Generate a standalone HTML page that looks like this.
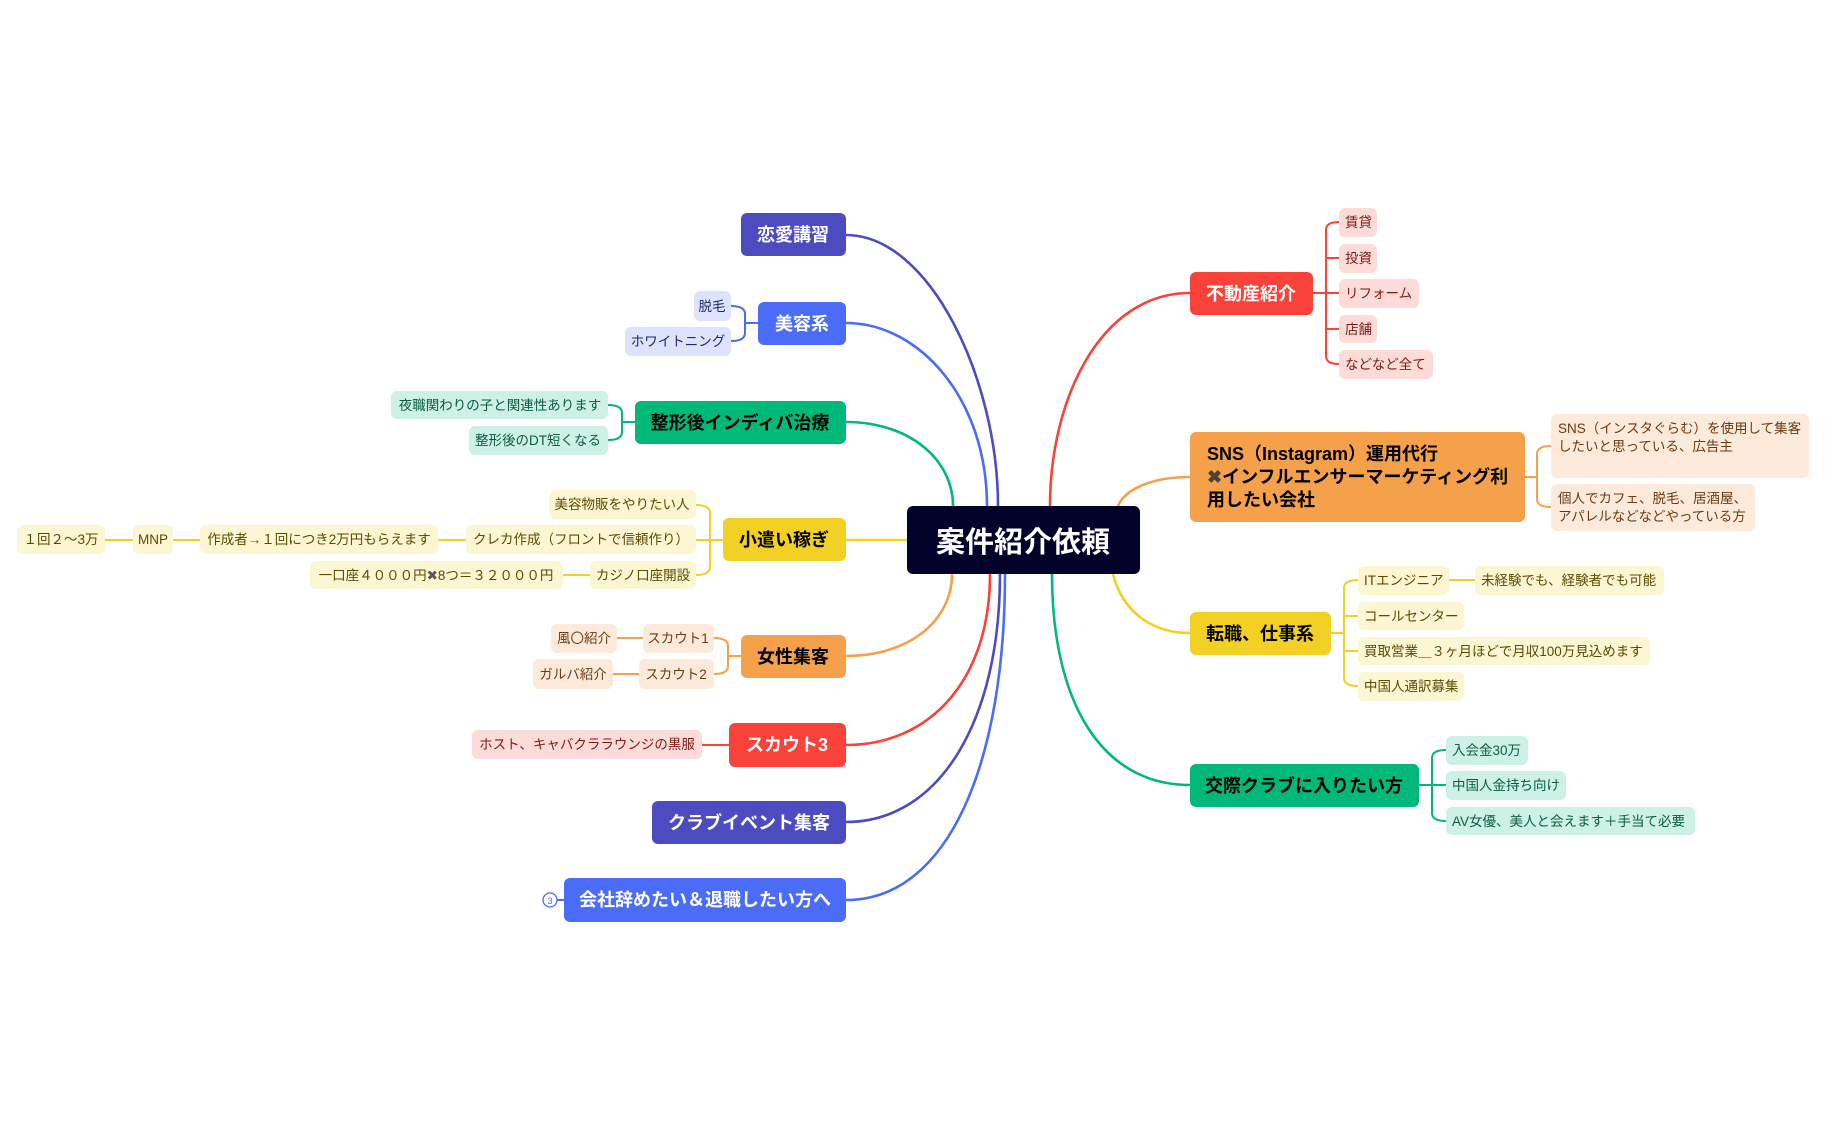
<!DOCTYPE html>
<html><head><meta charset="utf-8"><style>
html,body{margin:0;padding:0;background:#fff;}
svg text{font-family:"Liberation Sans","Noto Sans CJK JP",sans-serif;}
.n{font-size:18px;font-weight:bold;}
.l{font-size:13.5px;}
</style></head><body>
<svg width="1826" height="1130" viewBox="0 0 1826 1130" xmlns="http://www.w3.org/2000/svg">
<g fill="none" stroke-width="2.6" stroke-linecap="round">
<path d="M846 235 C930 235 998 380 998 506" stroke="#4c4bc0"/>
<path d="M846 323 C920 323 987 400 987 506" stroke="#4a6cf7"/>
<path d="M846 422 C910 422 953 460 953 506" stroke="#00b87a"/>
<path d="M846 540 L907 540" stroke="#f2d024"/>
<path d="M846 656 C910 656 952 620 952 574" stroke="#f5a04a"/>
<path d="M846 745 C930 745 990 680 990 574" stroke="#f9423a"/>
<path d="M846 822 C940 822 1000 720 1000 574" stroke="#4c4bc0"/>
<path d="M846 900 C950 900 1005 760 1005 574" stroke="#4a6cf7"/>
<path d="M1190 293 C1100 293 1050 400 1050 506" stroke="#f9423a"/>
<path d="M1190 477 C1150 477 1125 490 1118 506" stroke="#f5a04a"/>
<path d="M1190 633 C1150 633 1122 610 1113 574" stroke="#f2d024"/>
<path d="M1190 785 C1100 785 1052 700 1052 574" stroke="#00b87a"/>
</g>
<g fill="none" stroke-width="2" stroke-linejoin="round">
<g stroke="#4a6cf7"><path d="M758 323H745M731 306Q745 306 745 314V333Q745 341 731 341"/></g>
<g stroke="#00b87a"><path d="M635 422H622M608 405Q622 405 622 413V432Q622 440 608 440"/></g>
<g stroke="#f2d024"><path d="M723 540H696M696 505Q710 505 710 513V567Q710 575 696 575M466 540H438M200 540H173M133 540H105M590 575H563"/></g>
<g stroke="#f5a04a"><path d="M741 656H728M714 638Q728 638 728 646V666Q728 674 714 674M643 638H617M639 674H613"/></g>
<g stroke="#f9423a"><path d="M729 745H702"/></g>
<g stroke="#4a6cf7"><path d="M564 900H557"/><circle cx="550" cy="900" r="7" fill="#fff" stroke-width="1.3"/></g>
<g stroke="#f9423a"><path d="M1313 293H1339M1339 222Q1326 222 1326 230V356Q1326 364 1339 364M1326 258H1339M1326 329H1339"/></g>
<g stroke="#f5a04a"><path d="M1525 477H1537M1551 446Q1537 446 1537 454V499Q1537 507 1551 507"/></g>
<g stroke="#f2d024"><path d="M1331 633H1344M1358 580Q1344 580 1344 588V678Q1344 686 1358 686M1344 616H1358M1344 651H1358M1449 580H1475"/></g>
<g stroke="#00b87a"><path d="M1419 785H1446M1446 750Q1432 750 1432 758V813Q1432 821 1446 821"/></g>
</g>
<text x="550" y="904" font-size="9" fill="#4a6cf7" text-anchor="middle">3</text>

<!-- center -->
<rect x="907" y="506" width="233" height="68" rx="6" fill="#02022a"/>
<text x="1023" y="552" font-size="29" font-weight="bold" fill="#fff" text-anchor="middle">案件紹介依頼</text>

<!-- main nodes -->
<g class="n">
<rect x="741" y="213" width="105" height="43" rx="6" fill="#4c4bc0"/><text x="793" y="241" fill="#fff" text-anchor="middle" class="n">恋愛講習</text>
<rect x="758" y="302" width="88" height="43" rx="6" fill="#4a6cf7"/><text x="802" y="330" fill="#fff" text-anchor="middle" class="n">美容系</text>
<rect x="635" y="401" width="211" height="43" rx="6" fill="#00b87a"/><text x="740" y="429" fill="#000" text-anchor="middle" class="n">整形後インディバ治療</text>
<rect x="723" y="518" width="123" height="43" rx="6" fill="#f2d024"/><text x="784" y="546" fill="#000" text-anchor="middle" class="n">小遣い稼ぎ</text>
<rect x="741" y="635" width="105" height="43" rx="6" fill="#f5a04a"/><text x="793" y="663" fill="#000" text-anchor="middle" class="n">女性集客</text>
<rect x="729" y="723" width="117" height="44" rx="6" fill="#f9423a"/><text x="787" y="751" fill="#fff" text-anchor="middle" class="n">スカウト3</text>
<rect x="652" y="801" width="194" height="43" rx="6" fill="#4c4bc0"/><text x="749" y="829" fill="#fff" text-anchor="middle" class="n">クラブイベント集客</text>
<rect x="564" y="878" width="282" height="44" rx="6" fill="#4a6cf7"/><text x="705" y="906" fill="#fff" text-anchor="middle" class="n">会社辞めたい＆退職したい方へ</text>
<rect x="1190" y="272" width="123" height="43" rx="6" fill="#f9423a"/><text x="1251" y="300" fill="#fff" text-anchor="middle" class="n">不動産紹介</text>
<rect x="1190" y="432" width="335" height="90" rx="6" fill="#f5a04a"/>
<text x="1207" y="460" fill="#000" class="n">SNS（Instagram）運用代行</text>
<text x="1207" y="483" fill="#000" class="n"><tspan fill="#444">✖</tspan>インフルエンサーマーケティング利</text>
<text x="1207" y="506" fill="#000" class="n">用したい会社</text>
<rect x="1190" y="612" width="141" height="43" rx="6" fill="#f2d024"/><text x="1260" y="640" fill="#000" text-anchor="middle" class="n">転職、仕事系</text>
<rect x="1190" y="764" width="229" height="43" rx="6" fill="#00b87a"/><text x="1304" y="792" fill="#000" text-anchor="middle" class="n">交際クラブに入りたい方</text>
</g>

<!-- leaves -->
<g class="l">
<g fill="#dde3fd"><rect x="694" y="291" width="37" height="30" rx="6"/><rect x="625" y="327" width="106" height="29" rx="6"/></g>
<g fill="#1d2b6b" class="l"><text x="712" y="311" text-anchor="middle" class="l">脱毛</text><text x="678" y="346" text-anchor="middle" class="l">ホワイトニング</text></g>

<g fill="#cdf1e4"><rect x="391" y="391" width="217" height="28" rx="6"/><rect x="469" y="426" width="139" height="29" rx="6"/></g>
<g fill="#0a5d40" class="l"><text x="500" y="410" text-anchor="middle" class="l">夜職関わりの子と関連性あります</text><text x="538" y="445" text-anchor="middle" class="l">整形後のDT短くなる</text></g>

<g fill="#fdf6d3"><rect x="549" y="490" width="147" height="29" rx="6"/><rect x="466" y="525" width="230" height="29" rx="6"/><rect x="200" y="525" width="238" height="29" rx="6"/><rect x="133" y="525" width="40" height="29" rx="6"/><rect x="17" y="525" width="88" height="29" rx="6"/><rect x="590" y="561" width="106" height="28" rx="6"/><rect x="310" y="561" width="253" height="28" rx="6"/></g>
<g fill="#5a4a00" class="l">
<text x="622" y="509" text-anchor="middle" class="l">美容物販をやりたい人</text>
<text x="581" y="544" text-anchor="middle" class="l">クレカ作成（フロントで信頼作り）</text>
<text x="319" y="544" text-anchor="middle" class="l">作成者→１回につき2万円もらえます</text>
<text x="153" y="544" text-anchor="middle" class="l">MNP</text>
<text x="61" y="544" text-anchor="middle" class="l">１回２〜3万</text>
<text x="643" y="580" text-anchor="middle" class="l">カジノ口座開設</text>
<text x="436" y="580" text-anchor="middle" class="l">一口座４０００円<tspan fill="#555">✖</tspan>8つ＝３２０００円</text>
</g>

<g fill="#fdeadb"><rect x="551" y="624" width="66" height="29" rx="6"/><rect x="643" y="624" width="71" height="29" rx="6"/><rect x="533" y="659" width="80" height="30" rx="6"/><rect x="639" y="659" width="75" height="30" rx="6"/></g>
<g fill="#6b3a10" class="l"><text x="584" y="643" text-anchor="middle" class="l">風〇紹介</text><text x="678" y="643" text-anchor="middle" class="l">スカウト1</text><text x="573" y="679" text-anchor="middle" class="l">ガルバ紹介</text><text x="676" y="679" text-anchor="middle" class="l">スカウト2</text></g>

<rect x="472" y="730" width="230" height="29" rx="6" fill="#fddbd8"/>
<text x="587" y="749" text-anchor="middle" fill="#7a1a14" class="l">ホスト、キャバクララウンジの黒服</text>

<g fill="#fddbd8"><rect x="1339" y="208" width="38" height="29" rx="6"/><rect x="1339" y="244" width="38" height="29" rx="6"/><rect x="1339" y="279" width="80" height="29" rx="6"/><rect x="1339" y="315" width="38" height="28" rx="6"/><rect x="1339" y="350" width="94" height="29" rx="6"/></g>
<g fill="#7a1a14" class="l"><text x="1345" y="227" class="l">賃貸</text><text x="1345" y="263" class="l">投資</text><text x="1345" y="298" class="l">リフォーム</text><text x="1345" y="334" class="l">店舗</text><text x="1345" y="369" class="l">などなど全て</text></g>

<g fill="#fdeadb"><rect x="1551" y="414" width="258" height="64" rx="6"/><rect x="1551" y="484" width="204" height="47" rx="6"/></g>
<g fill="#6b3a10" class="l"><text x="1558" y="433" class="l">SNS（インスタぐらむ）を使用して集客</text><text x="1558" y="451" class="l">したいと思っている、広告主</text><text x="1558" y="503" class="l">個人でカフェ、脱毛、居酒屋、</text><text x="1558" y="521" class="l">アパレルなどなどやっている方</text></g>

<g fill="#fdf6d3"><rect x="1358" y="566" width="91" height="29" rx="6"/><rect x="1475" y="566" width="189" height="29" rx="6"/><rect x="1358" y="602" width="106" height="28" rx="6"/><rect x="1358" y="637" width="292" height="28" rx="6"/><rect x="1358" y="672" width="106" height="29" rx="6"/></g>
<g fill="#5a4a00" class="l"><text x="1364" y="585" class="l">ITエンジニア</text><text x="1481" y="585" class="l">未経験でも、経験者でも可能</text><text x="1364" y="621" class="l">コールセンター</text><text x="1364" y="656" class="l">買取営業＿３ヶ月ほどで月収100万見込めます</text><text x="1364" y="691" class="l">中国人通訳募集</text></g>

<g fill="#cdf1e4"><rect x="1446" y="736" width="82" height="29" rx="6"/><rect x="1446" y="771" width="120" height="29" rx="6"/><rect x="1446" y="807" width="249" height="28" rx="6"/></g>
<g fill="#0a5d40" class="l"><text x="1452" y="755" class="l">入会金30万</text><text x="1452" y="790" class="l">中国人金持ち向け</text><text x="1452" y="826" class="l">AV女優、美人と会えます＋手当て必要</text></g>
</g>
</svg>
</body></html>
